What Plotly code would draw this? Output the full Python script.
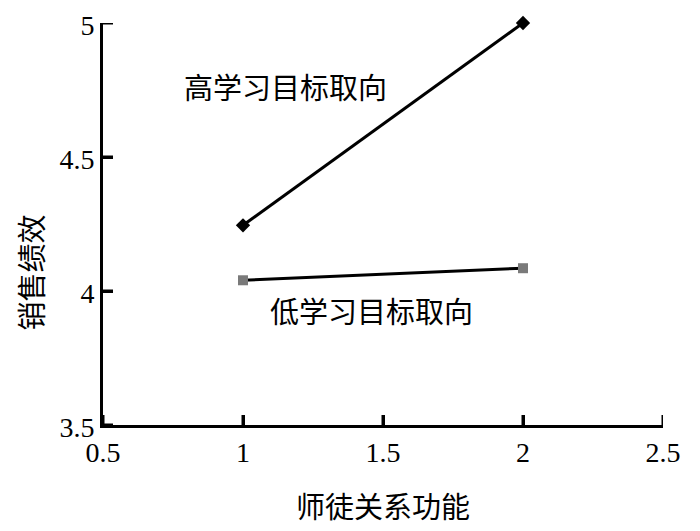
import plotly.graph_objects as go

x_vals = [1, 2]
high_vals = [4.245, 5.0]
low_vals = [4.04, 4.085]
high_label = "高学习目标取向"
low_label = "低学习目标取向"
x_title = "师徒关系功能"
y_title = "销售绩效"
x_ticks = [0.5, 1, 1.5, 2, 2.5]
y_ticks = [3.5, 4, 4.5, 5]

fig = go.Figure()
fig.add_trace(go.Scatter(x=x_vals, y=high_vals, mode="lines+markers",
                         line=dict(color="black", width=3),
                         marker=dict(symbol="diamond", size=11, color="black"),
                         cliponaxis=False, showlegend=False))
fig.add_trace(go.Scatter(x=x_vals, y=low_vals, mode="lines+markers",
                         line=dict(color="black", width=3),
                         marker=dict(symbol="square", size=10, color="#7a7a7a"),
                         cliponaxis=False, showlegend=False))

cjk = "Noto Sans CJK SC"
fig.add_annotation(x=1.15, y=4.765, text=high_label, showarrow=False,
                   font=dict(family=cjk, size=29, color="black"))
fig.add_annotation(x=1.46, y=3.93, text=low_label, showarrow=False,
                   font=dict(family=cjk, size=29, color="black"))
fig.add_annotation(x=-0.13, y=0.38, xref="paper", yref="paper", text=y_title,
                   textangle=-90, showarrow=False, xanchor="center", yanchor="middle",
                   font=dict(family=cjk, size=29, color="black"))

serif = "Liberation Serif"
xr = [0.5, 2.5]
yr = [3.5, 5.0]
W, H = 700, 531
mar = dict(l=95, r=45, t=15, b=114)
plot_w = W - mar["l"] - mar["r"]
plot_h = H - mar["t"] - mar["b"]
tick_px = 10

# inward tick marks, anchored on the axis lines
for v in x_ticks:
    fig.add_shape(type="line", xref="x", yref="y domain", x0=v, x1=v,
                  y0=0, y1=tick_px / plot_h,
                  line=dict(color="black", width=3), layer="above")
for v in y_ticks:
    fig.add_shape(type="line", xref="x domain", yref="y", y0=v, y1=v,
                  x0=0, x1=tick_px / plot_w,
                  line=dict(color="black", width=3), layer="above")

fig.update_layout(
    xaxis=dict(range=xr, tickvals=x_ticks, ticktext=[f"{v:g}" for v in x_ticks],
               showline=True, linecolor="black", linewidth=3,
               ticks="inside", ticklen=tick_px, tickwidth=3, tickcolor="black",
               showgrid=False, zeroline=False, automargin=False,
               ticklabeloverflow="allow",
               tickfont=dict(family=serif, size=28, color="black"),
               title=dict(text=x_title, font=dict(family=cjk, size=29, color="black"), standoff=32)),
    yaxis=dict(range=yr, tickvals=y_ticks, ticktext=[f"{v:g}" for v in y_ticks],
               showline=True, linecolor="black", linewidth=3,
               ticks="inside", ticklen=tick_px, tickwidth=3, tickcolor="black",
               showgrid=False, zeroline=False, automargin=False,
               ticklabeloverflow="allow", ticklabelshift=2,
               tickfont=dict(family=serif, size=28, color="black")),
    width=W, height=H, plot_bgcolor="white", paper_bgcolor="white",
    margin=mar)
fig.write_html("out.html")
